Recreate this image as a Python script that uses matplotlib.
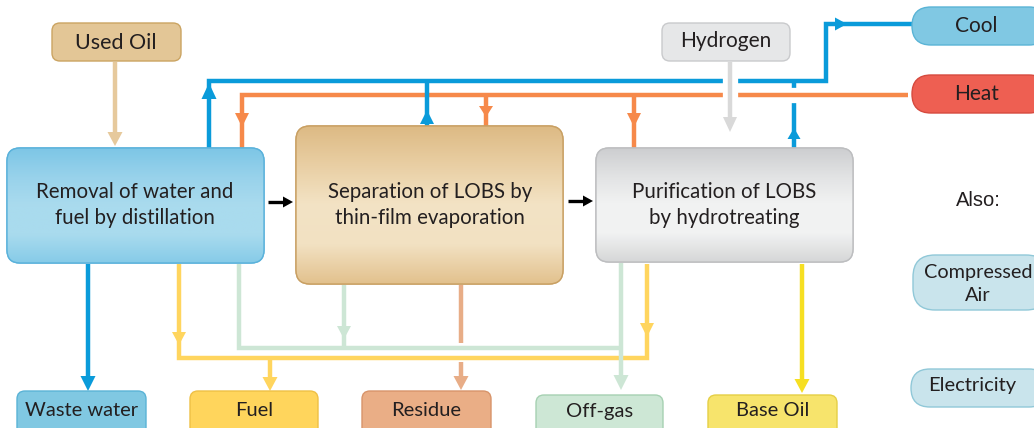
import numpy as np
import matplotlib
matplotlib.use("Agg")
import matplotlib.pyplot as plt
from matplotlib.patches import FancyBboxPatch, Polygon
from matplotlib.colors import LinearSegmentedColormap

# diagram content
process_labels = [
    "Removal of water and\nfuel by distillation",
    "Separation of LOBS by\nthin-film evaporation",
    "Purification of LOBS\nby hydrotreating",
]
input_labels = ["Used Oil", "Hydrogen"]
utility_labels = ["Cool", "Heat"]
other_utilities = ["Compressed\nAir", "Electricity"]
output_labels = ["Waste water", "Fuel", "Residue", "Off-gas", "Base Oil"]
also_label = "Also:"

FONT = "Lato"
TEXT = "#231F20"
BLUE = "#0A9BDA"
ORANGE = "#F6894A"
TAN = "#E6C99C"
GREY = "#D9D9D9"
FUEL_Y = "#FFD55E"
GREEN = "#CDE6D5"
RESIDUE = "#E8AD87"
BASE_Y = "#F6DF22"
LW = 3.2

fig = plt.figure(figsize=(10.34, 4.28), dpi=100)
ax = fig.add_axes([0, 0, 1, 1])
ax.set_xlim(0, 1034)
ax.set_ylim(428, 0)
ax.axis("off")


def rbox(x0, y0, x1, y1, r, fc, ec, grad=None, z=3):
    patch = FancyBboxPatch((x0, y0), x1 - x0, y1 - y0,
                           boxstyle=f"round,pad=0,rounding_size={r}",
                           fc=fc, ec=ec, lw=1.0, zorder=z)
    ax.add_patch(patch)
    if grad is not None:
        cmap = LinearSegmentedColormap.from_list("g", grad)
        img = ax.imshow(np.linspace(0, 1, 256).reshape(-1, 1), cmap=cmap,
                        extent=(x0, x1, y1, y0), aspect="auto", zorder=z + 0.1,
                        interpolation="bicubic")
        img.set_clip_path(patch)
        edge = FancyBboxPatch((x0, y0), x1 - x0, y1 - y0,
                              boxstyle=f"round,pad=0,rounding_size={r}",
                              fc="none", ec=ec, lw=1.0, zorder=z + 0.2)
        ax.add_patch(edge)
    return patch


def line(pts, color, lw=LW, z=2):
    xs, ys = zip(*pts)
    ax.plot(xs, ys, color=color, lw=lw, solid_capstyle="butt",
            solid_joinstyle="miter", zorder=z)


def head(x, y, d, color, w=14, l=14, z=2.5):
    if d == "down":
        pts = [(x, y), (x - w / 2, y - l), (x + w / 2, y - l)]
    elif d == "up":
        pts = [(x, y), (x - w / 2, y + l), (x + w / 2, y + l)]
    else:
        pts = [(x, y), (x - l, y - w / 2), (x - l, y + w / 2)]
    ax.add_patch(Polygon(pts, closed=True, fc=color, ec="none", zorder=z))


def label(x, y, s, size=14, family=FONT, ls=1.45):
    ax.text(x, y, s, ha="center", va="center", fontsize=size, color=TEXT,
            family=family, linespacing=ls, zorder=6)


# ---- top utility network
line([(209, 148), (209, 81), (826, 81), (826, 24), (912, 24)], BLUE)
head(209, 83, "up", BLUE, 15, 16)
head(847, 24, "right", BLUE, 13, 12)
line([(427, 126), (427, 81)], BLUE, z=2.2)
head(427, 110, "up", BLUE)
line([(794, 148), (794, 81)], BLUE)
head(794, 128, "up", BLUE, 13, 11)

ax.plot([788, 800], [95, 95], color="white", lw=11, solid_capstyle="butt", zorder=2.05)
line([(908, 95), (242, 95), (242, 148)], ORANGE, z=2.1)
head(242, 127, "down", ORANGE)
line([(486, 95), (486, 126)], ORANGE, z=2.1)
head(486, 117, "down", ORANGE, 14, 11)
line([(634, 95), (634, 148)], ORANGE, z=2.1)
head(634, 127, "down", ORANGE)

line([(115, 62), (115, 134)], TAN)
head(115, 146, "down", TAN, 15, 14)
ax.plot([730, 730], [72, 104], color="white", lw=11, solid_capstyle="butt", zorder=2.6)
line([(730, 62), (730, 120)], GREY, z=2.7)
head(730, 132, "down", GREY, 14, 15, z=2.7)

# ---- process flow arrows
line([(268, 202), (284, 202)], "black", lw=2.4)
head(293, 202, "right", "black", 11, 10)
line([(568, 201), (584, 201)], "black", lw=2.4)
head(593, 201, "right", "black", 11, 10)

# ---- bottom product network
line([(88, 264), (88, 378)], BLUE)
head(88, 391, "down", BLUE, 15, 15)

line([(179, 264), (179, 358), (647, 358), (647, 264)], FUEL_Y)
head(179, 345, "down", FUEL_Y, 14, 13)
head(647, 337, "down", FUEL_Y, 14, 14)
line([(270, 358), (270, 378)], FUEL_Y)
head(270, 391, "down", FUEL_Y, 15, 14)

line([(239, 264), (239, 348), (621, 348)], GREEN, z=2.3)
line([(344, 285), (344, 348)], GREEN, z=2.3)
head(344, 339, "down", GREEN, 14, 13, z=2.3)
line([(621, 263), (621, 380)], GREEN, z=2.3)
head(621, 390, "down", GREEN, 15, 15, z=2.3)

line([(461, 285), (461, 343)], RESIDUE)
line([(461, 362), (461, 378)], RESIDUE)
head(461, 390, "down", RESIDUE, 15, 14)

line([(802, 264), (802, 380)], BASE_Y)
head(802, 393, "down", BASE_Y, 15, 14)

# ---- process boxes
rbox(7, 148, 264, 263, 13, "#8ACDE9", "#5AB2DB",
     grad=["#7DC6E6", "#98D2EB", "#AADBEE", "#A9DBEE", "#86CBE8"])
rbox(296, 126, 563, 284, 14, "#E5C797", "#C9A063",
     grad=["#DDBA84", "#E9CFA4", "#F3E3C5", "#F2E1C2", "#E2C18D"])
rbox(596, 148, 853, 262, 13, "#E0E1E2", "#BDBEC0",
     grad=["#CDCED0", "#E2E3E4", "#F2F3F3", "#F1F2F2", "#D5D6D7"])
label(135, 205, process_labels[0], size=14.8, ls=1.42)
label(430, 205, process_labels[1], size=14.8, ls=1.42)
label(724, 205, process_labels[2], size=14.8, ls=1.42)

# ---- inputs
rbox(52, 23, 181, 61, 8, "#E3C696", "#CBA462")
label(116, 43, input_labels[0], size=15.5)
rbox(662, 23, 790, 61, 8, "#E6E7E8", "#C9CACC")
label(726, 41, input_labels[1], size=15)

# ---- utilities
rbox(912, 7, 1048, 45, 19, "#80C8E3", "#5AB4D6")
label(976, 26, utility_labels[0], size=15)
rbox(912, 75, 1048, 113, 19, "#EE5F52", "#D64A3E")
label(977, 94, utility_labels[1], size=15)
ax.text(978, 200, also_label, ha="center", va="center", fontsize=14.5,
        color=TEXT, family="Liberation Sans", zorder=6)
rbox(913, 255, 1048, 310, 22, "#C9E4EC", "#90C8D8")
label(978, 284, other_utilities[0], size=14.3, ls=1.4)
rbox(911, 369, 1048, 407, 19, "#C9E4EC", "#90C8D8")
label(972, 386, other_utilities[1], size=14.5)

# ---- outputs
out_boxes = [(17, 391, 146, "#80C8E2", "#5AB3D6"),
             (190, 391, 318, "#FFD55C", "#EFC045"),
             (362, 391, 491, "#EAAE86", "#D8946A"),
             (536, 395, 663, "#CDE7D5", "#A6D1B2"),
             (708, 395, 837, "#F7E46C", "#E5CF45")]
for name, (x0, y0, x1, fc, ec) in zip(output_labels, out_boxes):
    rbox(x0, y0, x1, 445, 8, fc, ec)
    label((x0 + x1) / 2, 411, name, size=14.5)

fig.savefig("out.png", dpi=100)
